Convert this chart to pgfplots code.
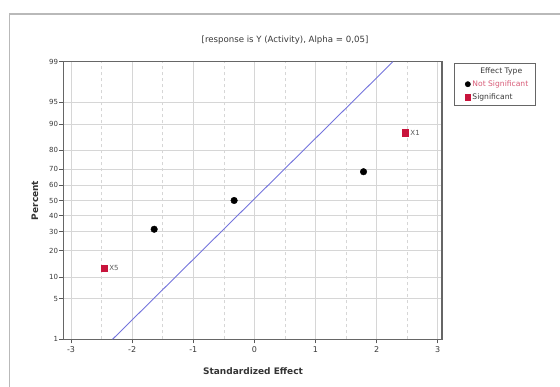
\documentclass[border=0pt]{standalone}
\usepackage{pgfplots}
\pgfplotsset{compat=1.18}
\usepackage{fontspec}
\setmainfont{DejaVu Sans}

\definecolor{linecol}{HTML}{7474DC}
\definecolor{sigred}{HTML}{C8143C}
\definecolor{gridgray}{HTML}{D6D6D6}
\definecolor{txtgray}{HTML}{383838}

\begin{document}
\begin{tikzpicture}[x=1pt,y=1pt]
\useasboundingbox (0,0) rectangle (560,387);
\draw[gray!55, line width=1.3pt] (9.3,0) -- (9.3,373) -- (560,373);
\node[font=\fontsize{8.6}{10}\selectfont, text=txtgray] at (285,346.5) {[response is Y (Activity), Alpha = 0,05]};
\begin{axis}[
  at={(63.3pt,47.7pt)}, anchor=south west,
  scale only axis, width=378.7pt, height=277.6pt,
  xmin=-3.126, xmax=3.07, ymin=-2.3263, ymax=2.3263,
  xtick={-3,-2,-1,0,1,2,3},
  xticklabels={-3,-2,-1,0,1,2,3},
  minor xtick={-2.5,-1.5,-0.5,0.5,1.5,2.5},
  ytick={-2.3263,-1.6449,-1.2816,-0.8416,-0.5244,-0.2533,0,0.2533,0.5244,0.8416,1.2816,1.6449,2.3263},
  yticklabels={1,5,10,20,30,40,50,60,70,80,90,95,99},
  xtick pos=bottom, ytick pos=left,
  grid=both,
  major grid style={gridgray, line width=0.6pt},
  minor grid style={gridgray, dashed, line width=0.5pt},
  tick align=outside, major tick length=4pt, minor tick length=0pt,
  tick style={black!65, line width=0.8pt},
  axis line style={black!60, line width=1.1pt},
  xticklabel style={font=\fontsize{8}{9}\selectfont, text=txtgray},
  yticklabel style={font=\fontsize{7}{8}\selectfont, text=txtgray, inner xsep=1pt},
  xlabel={Standardized Effect},
  ylabel={Percent},
  xlabel style={font=\bfseries\fontsize{9}{11}\selectfont, text=black!80, at={(axis description cs:0.501,-0.113)}, anchor=center},
  ylabel style={font=\bfseries\fontsize{9}{11}\selectfont, text=black!80, at={(axis description cs:-0.075,0.5)}, anchor=center},
  legend style={at={(axis description cs:1.0317,0.9964)}, anchor=north west,
    draw=black!60, line width=0.6pt, font=\fontsize{7.6}{8.5}\selectfont,
    row sep=1.8pt, inner xsep=5pt, inner ysep=2.5pt, text=txtgray},
  legend cell align=left,
  clip=true,
]
\addlegendimage{empty legend}
\addlegendentry{\hspace*{8pt}Effect Type}
\addlegendimage{only marks, mark=*, mark size=2.6pt, black}
\addlegendentry{\textcolor{sigred!70}{Not Significant}}
\addlegendimage{only marks, mark=square*, mark size=2.6pt, sigred, mark options={draw=sigred, fill=sigred}}
\addlegendentry{Significant}

\addplot[linecol, line width=0.9pt, forget plot] coordinates {(-2.32,-2.3263) (2.267,2.3263)};

\addplot[only marks, mark=*, mark size=3.3pt, black, forget plot] coordinates {
  (-1.639,-0.482) (-0.331,0) (1.786,0.482)
};

\addplot[only marks, mark=square*, mark size=3.2pt, mark options={draw=sigred, fill=sigred},
  point meta=explicit symbolic, nodes near coords,
  every node near coord/.style={anchor=west, xshift=1.5pt, font=\fontsize{7}{8}\selectfont, text=black!65},
  forget plot] table[meta=label] {
x y label
-2.455 -1.135 X5
2.472 1.135 X1
};
\end{axis}
\end{tikzpicture}
\end{document}
